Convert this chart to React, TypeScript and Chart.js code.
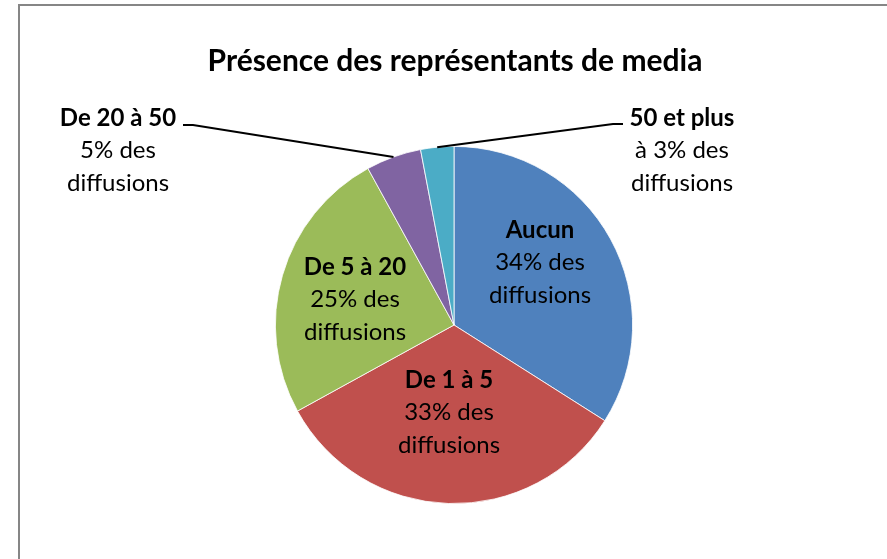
import React, { useEffect, useRef } from "react";
import { Chart, registerables } from "chart.js";

Chart.register(...registerables);

const TITLE = "Présence des représentants de media";
const categories = ["Aucun", "De 1 à 5", "De 5 à 20", "De 20 à 50", "50 et plus"];
const values = [34, 33, 25, 5, 3];
const percentLines = ["34% des", "33% des", "25% des", "5% des", "à 3% des"];
const lastLine = "diffusions";
const colors = ["#4F81BD", "#C0504D", "#9BBB59", "#8064A2", "#4BACC6"];

const FONT = "Lato, 'Open Sans', sans-serif";

export default function App() {
  const ref = useRef<HTMLCanvasElement | null>(null);

  useEffect(() => {
    document.body.style.margin = "0";
    const canvas = ref.current;
    if (!canvas) return;

    const labelPlugin = {
      id: "labels",
      beforeDraw(chart: any) {
        const ctx = chart.ctx;
        ctx.save();
        ctx.fillStyle = "#ffffff";
        ctx.fillRect(0, 0, chart.width, chart.height);
        ctx.strokeStyle = "#868686";
        ctx.lineWidth = 2;
        ctx.strokeRect(19, 5, chart.width + 10, chart.height + 10);
        ctx.restore();
      },
      afterDraw(chart: any) {
        const ctx = chart.ctx;
        const meta = chart.getDatasetMeta(0);
        const arc0 = meta.data[0];
        const cx = arc0.x;
        const cy = arc0.y;
        const r = arc0.outerRadius;
        ctx.save();
        ctx.fillStyle = "#000000";
        ctx.textAlign = "center";
        ctx.textBaseline = "alphabetic";
        ctx.font = `bold 30px ${FONT}`;
        ctx.fillText(TITLE, cx + 1, 71);

        // label anchors: [x, baseline of middle line]
        const anchors: [number, number][] = [
          [cx + 86, cy - 55],
          [cx - 5, cy + 95],
          [cx - 99, cy - 18],
          [118, 158],
          [682, 158],
        ];
        const lh = 32.5;
        categories.forEach((c, i) => {
          const [x, y] = anchors[i];
          ctx.font = `bold 24px ${FONT}`;
          ctx.fillText(c, x, y - lh);
          ctx.font = `24px ${FONT}`;
          ctx.fillText(percentLines[i], x, y);
          ctx.fillText(lastLine, x, y + lh);
        });

        // leader lines for small slices
        ctx.strokeStyle = "#000000";
        ctx.lineWidth = 2;
        const leader = (i: number, elbowX: number, endX: number, yLine: number) => {
          const a = meta.data[i];
          const mid = (a.startAngle + a.endAngle) / 2;
          const px = cx + Math.cos(mid) * r;
          const py = cy + Math.sin(mid) * r;
          ctx.beginPath();
          ctx.moveTo(px, py);
          ctx.lineTo(elbowX, yLine);
          ctx.lineTo(endX, yLine);
          ctx.stroke();
        };
        leader(3, 193, 183, 125);
        leader(4, 613, 623, 124);
        ctx.restore();
      },
    };

    const chart = new Chart(canvas, {
      type: "pie",
      data: {
        labels: categories,
        datasets: [
          {
            data: values,
            backgroundColor: colors,
            borderColor: "#ffffff",
            borderWidth: 0.8,
          },
        ],
      },
      options: {
        animation: false,
        responsive: false,
        rotation: 0,
        layout: { padding: { left: 275, right: 254, top: 146, bottom: 55 } },
        plugins: {
          legend: { display: false },
          title: { display: false },
          tooltip: { enabled: false },
        },
      },
      plugins: [labelPlugin],
    });
    return () => chart.destroy();
  }, []);

  return (
    <div style={{ width: 887, height: 559 }}>
      <canvas ref={ref} width={887} height={559} style={{ display: "block" }} />
    </div>
  );
}
